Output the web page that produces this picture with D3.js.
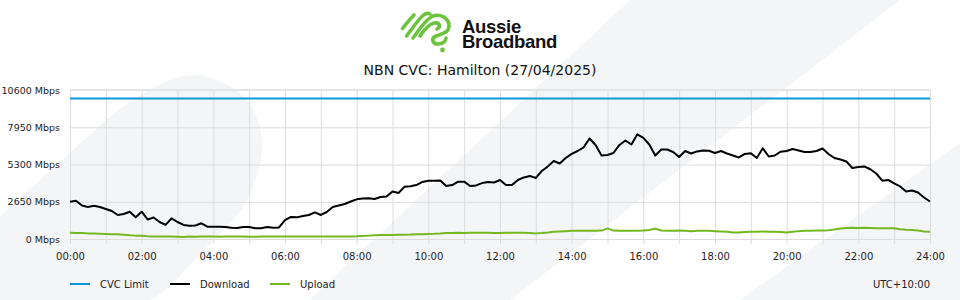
<!DOCTYPE html>
<html>
<head>
<meta charset="utf-8">
<script src="https://cdn.jsdelivr.net/npm/d3@7"></script>
<style>
  html, body { margin: 0; padding: 0; background: #ffffff; }
  svg { display: block; }
  text { font-family: "DejaVu Sans", sans-serif; }
</style>
</head>
<body>
<svg id="chart" width="960" height="300"></svg>
<script>
// ---- data ----
const stepMinutes = 10;
const cvcLimit = 10000;
const download = [
  2650, 2720, 2380, 2280, 2360, 2280, 2130, 1990, 1710, 1780,
  1940, 1540, 1940, 1390, 1530, 1210, 1000, 1470, 1210, 1000,
  940, 960, 1120, 880, 880, 880, 850, 800, 780, 850,
  850, 760, 760, 850, 800, 820, 1350, 1570, 1540, 1640,
  1710, 1890, 1710, 1920, 2280, 2380, 2490, 2670, 2820, 2880,
  2900, 2850, 2990, 3020, 3380, 3270, 3710, 3760, 3840, 4060,
  4150, 4150, 4160, 3770, 3840, 4080, 4080, 3770, 3810, 3980,
  4060, 4020, 4200, 3840, 3840, 4200, 4380, 4480, 4340, 4840,
  5160, 5550, 5370, 5760, 6060, 6260, 6520, 7150, 6690, 5940,
  5980, 6120, 6690, 7010, 6720, 7450, 7190, 6720, 5940, 6370,
  6370, 6190, 5830, 6260, 6080, 6230, 6300, 6280, 6120, 6260,
  6080, 5940, 5800, 6050, 6100, 5760, 6450, 5870, 5940, 6210,
  6260, 6400, 6300, 6190, 6190, 6260, 6440, 6050, 5760, 5660,
  5510, 5050, 5120, 5160, 4960, 4660, 4150, 4200, 3950, 3740,
  3380, 3450, 3310, 2950, 2670
];
const upload = [
  450, 420, 430, 400, 390, 380, 360, 340, 330, 300,
  260, 240, 230, 190, 180, 170, 170, 170, 160, 150,
  170, 160, 170, 170, 170, 160, 170, 170, 170, 170,
  160, 160, 170, 170, 170, 170, 170, 170, 170, 170,
  170, 170, 170, 170, 170, 170, 170, 180, 190, 220,
  240, 260, 280, 280, 290, 300, 310, 320, 340, 340,
  360, 370, 390, 420, 430, 440, 430, 450, 440, 450,
  440, 430, 430, 440, 440, 450, 440, 420, 400, 430,
  470, 520, 540, 560, 580, 590, 590, 590, 590, 600,
  760, 600, 590, 590, 590, 590, 600, 640, 740, 600,
  590, 590, 600, 580, 560, 580, 590, 580, 560, 540,
  520, 470, 460, 500, 520, 520, 540, 510, 520, 500,
  470, 520, 560, 580, 590, 600, 600, 620, 680, 740,
  790, 800, 790, 800, 790, 760, 770, 760, 760, 700,
  650, 640, 600, 540, 520
];
const xTickHours = [0, 2, 4, 6, 8, 10, 12, 14, 16, 18, 20, 22, 24];
const xTickLabels = ["00:00","02:00","04:00","06:00","08:00","10:00","12:00","14:00","16:00","18:00","20:00","22:00","24:00"];
const yTicks = [0, 2650, 5300, 7950, 10600];
const yTickLabels = ["0 Mbps", "2650 Mbps", "5300 Mbps", "7950 Mbps", "10600 Mbps"];
const seriesNames = ["CVC Limit", "Download", "Upload"];
const seriesColors = ["#0a97d9", "#000000", "#74b821"];
const titleText = "NBN CVC: Hamilton (27/04/2025)";
const tzText = "UTC+10:00";
const brandLines = ["Aussie", "Broadband"];

// ---- layout ----
const plotL = 70, plotR = 930, plotT = 90, plotB = 239;
const svg = d3.select("#chart");

const x = d3.scaleLinear().domain([0, 24]).range([plotL, plotR]);
const y = d3.scaleLinear().domain([0, 10600]).range([plotB, plotT]);

// ---- decorative background shapes ----
const bg = svg.append("g").attr("fill", "#f4f5f7");
bg.append("path")
  .attr("d", d3.line().curve(d3.curveCatmullRom.alpha(0.5))([
    [-10, 226], [60, 162], [133, 100], [193, 75], [243, 96], [262, 140],
    [247, 200], [202, 252], [140, 305], [-10, 305]
  ]) + "Z");
bg.append("path").attr("d", "M630,0 L900,0 L510,300 L309,300 Z");
bg.append("path").attr("d", "M960,143 L960,300 L740,300 Z");

// ---- grid ----
const grid = svg.append("g");
grid.append("g")
  .attr("transform", `translate(0,${plotB + 5})`)
  .call(d3.axisBottom(x).tickValues(d3.range(0, 25, 1)).tickSize(-(plotB + 5 - plotT)).tickFormat(""))
  .call(g => g.select(".domain").remove())
  .call(g => g.selectAll("line").attr("stroke", "#dcdcdc").attr("stroke-width", 1));
grid.append("g")
  .attr("transform", `translate(${plotL},0)`)
  .call(d3.axisLeft(y).tickValues(yTicks).tickSize(-(plotR - plotL)).tickFormat(""))
  .call(g => g.select(".domain").remove())
  .call(g => g.selectAll("line").attr("stroke", "#dcdcdc").attr("stroke-width", 1));
grid.append("line")
  .attr("x1", plotL).attr("x2", plotR).attr("y1", y(10600)).attr("y2", y(10600))
  .attr("stroke", "#e4e4e4").attr("stroke-width", 2);

// ---- axes labels ----
svg.append("g")
  .attr("transform", `translate(${plotL},0)`)
  .call(d3.axisLeft(y).tickValues(yTicks).tickSize(0).tickPadding(10)
    .tickFormat((d, i) => yTickLabels[i]))
  .call(g => g.select(".domain").remove())
  .call(g => g.selectAll("text").attr("font-size", 9.5).attr("fill", "#222")
    .attr("font-family", "DejaVu Sans"));

svg.append("g")
  .attr("transform", `translate(0,${plotB})`)
  .call(d3.axisBottom(x).tickValues(xTickHours).tickSize(0).tickPadding(14)
    .tickFormat((d, i) => xTickLabels[i]))
  .call(g => g.select(".domain").remove())
  .call(g => g.selectAll("text").attr("font-size", 10).attr("fill", "#222")
    .attr("font-family", "DejaVu Sans"));

// ---- series ----
const hours = i => i * stepMinutes / 60;
const line = d3.line().x((d, i) => x(hours(i))).y(d => y(d)).curve(d3.curveLinear);

svg.append("line")
  .attr("x1", x(0)).attr("x2", x(24)).attr("y1", y(cvcLimit)).attr("y2", y(cvcLimit))
  .attr("stroke", seriesColors[0]).attr("stroke-width", 2);
svg.append("path").datum(upload).attr("d", line)
  .attr("fill", "none").attr("stroke", seriesColors[2]).attr("stroke-width", 2)
  .attr("stroke-linejoin", "round");
svg.append("path").datum(download).attr("d", line)
  .attr("fill", "none").attr("stroke", seriesColors[1]).attr("stroke-width", 2)
  .attr("stroke-linejoin", "round");

// ---- legend ----
const legendX = [70, 170, 270];
const leg = svg.append("g");
seriesNames.forEach((name, i) => {
  leg.append("line").attr("x1", legendX[i]).attr("x2", legendX[i] + 20)
    .attr("y1", 284).attr("y2", 284)
    .attr("stroke", seriesColors[i]).attr("stroke-width", 2);
  leg.append("text").attr("x", legendX[i] + 30).attr("y", 284).attr("dy", "0.35em")
    .attr("font-size", 10).attr("fill", "#222").text(name);
});
svg.append("text").attr("x", plotR).attr("y", 284).attr("dy", "0.35em")
  .attr("text-anchor", "end").attr("font-size", 10).attr("fill", "#222").text(tzText);

// ---- title ----
svg.append("text").attr("x", 480).attr("y", 75).attr("text-anchor", "middle")
  .attr("font-size", 14).attr("fill", "#111").text(titleText);

// ---- logo ----
const logo = svg.append("g").attr("fill", "none").attr("stroke", "#6cc33c")
  .attr("stroke-width", 3.6).attr("stroke-linecap", "round").attr("stroke-linejoin", "round");
logo.append("path").attr("d", "M402.5,28.5 C406,24 410,19 414,15");
logo.append("path").attr("d", "M406.5,36 C412,29 417,21 423,15.5 C425,13.5 428,13 430,14");
logo.append("path").attr("d", "M413,38 C419,30 425,20 432,16.5 C440,13 449,18 449,26 C449,33 441,34 436,36 C431,38 432,44 438,44 C443,44 446,41 446,38");
logo.append("path").attr("d", "M420,36 C424,30 429,24 434,23 C440,22 441,27 437,29");
svg.append("circle").attr("cx", 442.5).attr("cy", 50).attr("r", 2.4).attr("fill", "#6cc33c");
const brand = svg.append("text").attr("font-weight", "bold").attr("font-size", 18.5).attr("fill", "#111")
  .attr("letter-spacing", "-0.3")
  .style("font-family", "'Liberation Sans', Arial, sans-serif");
brand.selectAll("tspan").data(brandLines).join("tspan")
  .attr("x", 462).attr("y", (d, i) => i === 0 ? 32.5 : 48).text(d => d);
</script>
</body>
</html>
